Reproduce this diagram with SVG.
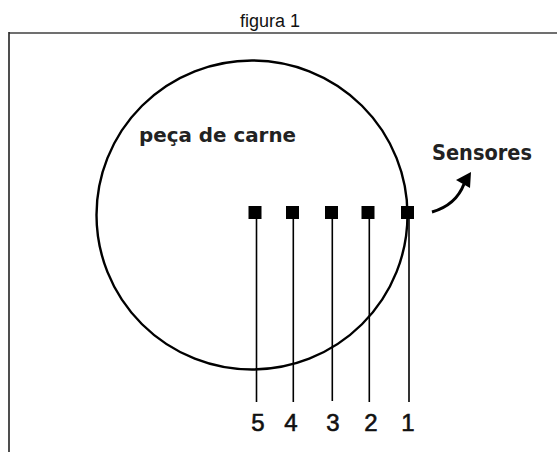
<svg xmlns="http://www.w3.org/2000/svg" width="557" height="452" viewBox="0 0 557 452">
<style>
.lbl{font-family:"DejaVu Sans",sans-serif;font-weight:bold;fill:#222}
.num{font-family:"Liberation Sans",Arial,sans-serif;font-size:24px;fill:#111;stroke:#111;stroke-width:0.6;text-anchor:middle}
.lead{stroke:#000;stroke-width:1.6}
.sq{fill:#000}
</style>
<rect width="557" height="452" fill="#fff"/>
<text x="270" y="27" font-family="Liberation Sans, Arial, sans-serif" font-size="18" text-anchor="middle" fill="#111">figura 1</text>
<g id="frame">
<line x1="9" y1="33" x2="557" y2="33" stroke="#707070" stroke-width="2"/>
<line x1="9" y1="32" x2="9" y2="452" stroke="#222" stroke-width="1.6"/>
</g>
<g id="meat">
<ellipse cx="252" cy="215" rx="155.5" ry="154.5" fill="none" stroke="#000" stroke-width="2.4"/>
<text class="lbl" x="139" y="142" font-size="20" textLength="157" lengthAdjust="spacingAndGlyphs">peça de carne</text>
</g>
<g id="connectors">
<line class="lead" x1="256.5" y1="212" x2="256.5" y2="402"/>
<line class="lead" x1="293.3" y1="212" x2="293.3" y2="402"/>
<line class="lead" x1="332.3" y1="212" x2="332.3" y2="401"/>
<line class="lead" x1="369.3" y1="212" x2="369.3" y2="402"/>
<line class="lead" x1="409" y1="212" x2="409" y2="402"/>
<path d="M432,212 Q456,205 464,184" fill="none" stroke="#000" stroke-width="3"/>
<polygon points="471,172 456,180 470,188" fill="#000"/>
</g>
<g id="sensor5"><rect class="sq" x="248.5" y="206" width="13" height="13"/><text class="num" x="258" y="431">5</text></g>
<g id="sensor4"><rect class="sq" x="286" y="206" width="13" height="13"/><text class="num" x="291" y="431">4</text></g>
<g id="sensor3"><rect class="sq" x="325" y="206" width="13" height="13"/><text class="num" x="333" y="431">3</text></g>
<g id="sensor2"><rect class="sq" x="361.5" y="206" width="13" height="13"/><text class="num" x="371" y="431">2</text></g>
<g id="sensor1"><rect class="sq" x="401" y="206" width="13" height="13"/><text class="num" x="408" y="431">1</text></g>
<g id="sensores"><text class="lbl" x="432" y="160" font-size="21" textLength="100" lengthAdjust="spacingAndGlyphs">Sensores</text></g>
</svg>
